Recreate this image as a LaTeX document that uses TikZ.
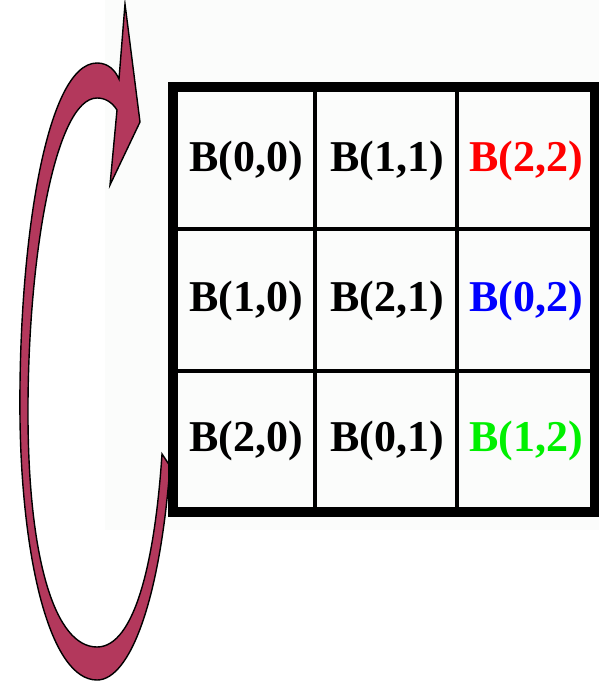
\documentclass[tikz,border=0pt]{standalone}
\usepackage{fontspec}
\setmainfont{Liberation Serif}
\definecolor{loopfill}{HTML}{B3385C}
\definecolor{pale}{HTML}{FBFCFB}
\definecolor{entryred}{HTML}{FF0000}
\definecolor{entryblue}{HTML}{0000FF}
\definecolor{entrygreen}{HTML}{00F000}
\tikzset{
  frame/.style={draw=black,line width=9.5pt},
  gridline/.style={draw=black,line width=4pt},
  entry/.style={font=\fontsize{44}{44}\selectfont\bfseries,inner sep=0pt,anchor=base},
  loop/.style={fill=loopfill,draw=black,line width=1.4pt,line join=miter}}
\begin{document}
\begin{tikzpicture}[x=1pt,y=-1pt]
\useasboundingbox (0,0) rectangle (599,682);
\fill[pale] (105,0) rectangle (599,530);
% rotation arrow
\filldraw[loop] (170,466) .. controls (160,600) and (130,680) .. (97,680)
  .. controls (50,680) and (22,560) .. (20,420)
  .. controls (18,250) and (45,63) .. (97,63)
  .. controls (108,63) and (115,70) .. (119,79)
  -- (125,4) -- (140,122) -- (110,185) -- (117,110)
  .. controls (112,102) and (105,98) .. (97,98)
  .. controls (55,98) and (27,260) .. (28,420)
  .. controls (29,560) and (55,647) .. (97,647)
  .. controls (135,647) and (155,560) .. (162,454) -- cycle;
% grid
\draw[gridline] (315,87)--(315,512) (457,87)--(457,512)
  (173,229)--(595,229) (173,371)--(595,371);
\draw[frame] (173,87) rectangle (595,512);
\foreach \cx/\cy/\lbl/\clr/\nm in {
  246/171/{B(0,0)}/black/b00, 387/171/{B(1,1)}/black/b11, 526/171/{B(2,2)}/entryred/b22,
  246/311/{B(1,0)}/black/b10, 387/311/{B(2,1)}/black/b21, 526/311/{B(0,2)}/entryblue/b02,
  246/451/{B(2,0)}/black/b20, 387/451/{B(0,1)}/black/b01, 526/451/{B(1,2)}/entrygreen/b12}
  \node[entry,text=\clr] (\nm) at (\cx,\cy) {\lbl};
\end{tikzpicture}
\end{document}
